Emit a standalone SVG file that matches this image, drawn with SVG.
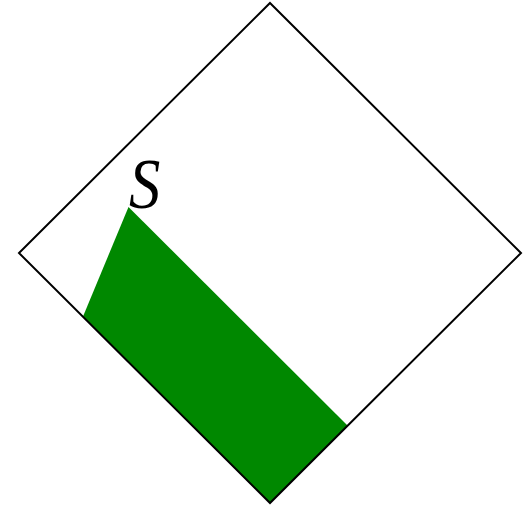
<svg xmlns="http://www.w3.org/2000/svg" width="527" height="508" viewBox="0 0 527 508">
<style>
.frame{fill:none;stroke:#000;stroke-width:2}
.region{fill:#008800;stroke:none}
</style>
<rect width="527" height="508" fill="#fff"/>
<g id="region"><polygon class="region" points="128.5,207 83,316.5 270,503 347.5,425.5"/></g>
<g id="square"><polygon class="frame" points="270,3 521,253 270,503 19,253"/></g>
<g id="label-S"><text x="129" y="208" font-family="Liberation Serif, serif" font-style="italic" font-size="66" fill="#000" transform="translate(129 208) scale(0.95 1.08) translate(-129 -208)">S</text></g>
</svg>
